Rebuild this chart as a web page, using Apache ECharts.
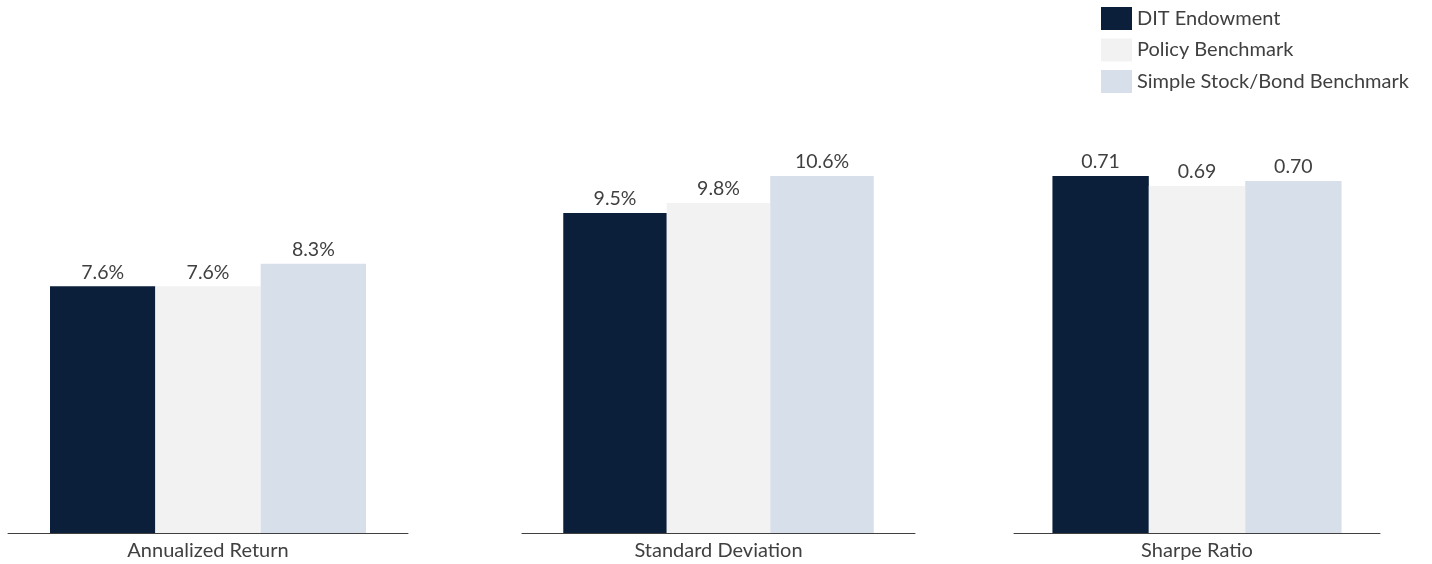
<!DOCTYPE html>
<html>
<head>
<meta charset="utf-8">
<script src="https://cdn.jsdelivr.net/npm/echarts@6/dist/echarts.min.js"></script>
<style>
html,body{margin:0;padding:0;background:#fff;}
#chart{width:1432px;height:564px;}
</style>
</head>
<body>
<div id="chart"></div>
<script>
// Data
var categories = ['Annualized Return', 'Standard Deviation', 'Sharpe Ratio'];
var seriesNames = ['DIT Endowment', 'Policy Benchmark', 'Simple Stock/Bond Benchmark'];
var endowment = [7.6, 9.5, 0.71];
var policy = [7.6, 9.8, 0.69];
var simple = [8.3, 10.6, 0.70];
var axisMax = [11, 10.6, 0.71];
var labelSuffix = ['%', '%', ''];
var labelDecimals = [1, 1, 2];

var colors = ['#0B1F3B', '#F2F2F2', '#D7E0EA'];
var font = 'Lato, "Open Sans", sans-serif';
var textColor = '#404040';

var grids = [
  {left: 8, width: 400, top: 176, height: 357},
  {left: 522, width: 393, top: 176, height: 357},
  {left: 1014, width: 366, top: 176, height: 357}
];

var values = [endowment, policy, simple];
var xAxes = [], yAxes = [], series = [];
for (var g = 0; g < 3; g++) {
  xAxes.push({
    type: 'category', gridIndex: g, data: [categories[g]],
    axisLine: {show: true, lineStyle: {color: '#404040', width: 1}},
    axisTick: {show: false},
    axisLabel: {color: textColor, fontFamily: font, fontSize: 20, margin: 8}
  });
  yAxes.push({
    type: 'value', gridIndex: g, min: 0, max: axisMax[g], show: false,
    splitLine: {show: false}
  });
  for (var s = 0; s < 3; s++) {
    (function(g, s){
      series.push({
        name: seriesNames[s], type: 'bar', xAxisIndex: g, yAxisIndex: g,
        data: [values[s][g]],
        barGap: '0%', barCategoryGap: '21%',
        itemStyle: {color: colors[s]},
        label: {
          show: true, position: 'top', distance: 4,
          color: textColor, fontFamily: font, fontSize: 19.5,
          formatter: function(p){ return p.value.toFixed(labelDecimals[g]) + labelSuffix[g]; }
        },
        silent: true
      });
    })(g, s);
  }
}

var chart = echarts.init(document.getElementById('chart'), null, {renderer: 'canvas'});
chart.setOption({
  animation: false,
  backgroundColor: '#fff',
  color: colors,
  legend: {
    data: seriesNames, orient: 'vertical', left: 1096, top: 2,
    itemWidth: 31, itemHeight: 23, itemGap: 8.5,
    icon: 'rect',
    textStyle: {color: textColor, fontFamily: font, fontSize: 20},
    selectedMode: false
  },
  grid: grids,
  xAxis: xAxes,
  yAxis: yAxes,
  series: series
});
</script>
</body>
</html>
